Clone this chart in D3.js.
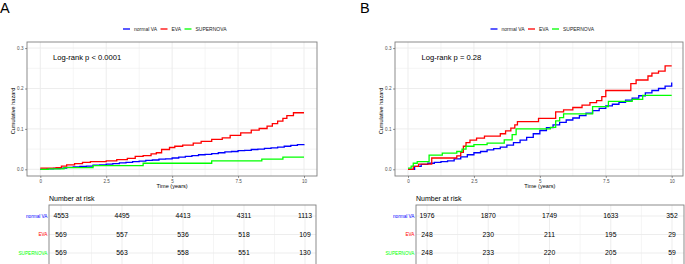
<!DOCTYPE html>
<html><head><meta charset="utf-8">
<script src="https://cdn.jsdelivr.net/npm/d3@7"></script>
<style>body{margin:0;background:#fff}svg{display:block;font-family:"Liberation Sans",Arial,sans-serif}</style>
</head><body>
<svg id="chart" width="685" height="264"></svg>
<script>
// ---------- data ----------
const seriesNames = ["normal VA", "EVA", "SUPERNOVA"];
const seriesColors = ["#0000ff", "#ff0000", "#00ff00"];
const riskTimes = [0, 2.5, 5, 7.5, 10];
const xTicks = [0, 2.5, 5, 7.5, 10];
const xTickLabels = ["0", "2.5", "5", "7.5", "10"];
const yTicks = [0, 0.1, 0.2, 0.3];
const yTickLabels = ["0.0", "0.1", "0.2", "0.3"];

// Panel A
const aNormalT = [0, 0.25, 0.5, 0.75, 1, 1.25, 1.5, 1.75, 2, 2.25, 2.5, 2.75, 3, 3.25, 3.5, 3.75, 4, 4.25, 4.5, 4.75, 5, 5.25, 5.5, 5.75, 6, 6.25, 6.5, 6.75, 7, 7.25, 7.5, 7.75, 8, 8.25, 8.5, 8.75, 9, 9.25, 9.5, 9.75, 10];
const aNormalH = [0, 0.001, 0.002, 0.003, 0.005, 0.006, 0.007, 0.008, 0.010, 0.011, 0.013, 0.014, 0.016, 0.017, 0.019, 0.020, 0.022, 0.023, 0.025, 0.026, 0.028, 0.030, 0.032, 0.034, 0.036, 0.037, 0.039, 0.041, 0.043, 0.044, 0.046, 0.047, 0.049, 0.050, 0.052, 0.053, 0.055, 0.057, 0.059, 0.061, 0.062];
const aEvaT = [0, 0.6, 0.8, 1.0, 1.3, 1.6, 1.9, 2.5, 2.9, 3.3, 3.6, 3.9, 4.2, 4.4, 4.6, 4.9, 5.1, 5.4, 5.8, 6.1, 6.5, 6.9, 7.2, 7.6, 8.0, 8.3, 8.6, 8.8, 9.0, 9.2, 9.35, 9.6, 10];
const aEvaH = [0.003, 0.004, 0.008, 0.011, 0.014, 0.017, 0.019, 0.021, 0.024, 0.027, 0.032, 0.034, 0.038, 0.041, 0.049, 0.054, 0.057, 0.060, 0.065, 0.069, 0.074, 0.078, 0.084, 0.090, 0.097, 0.101, 0.107, 0.113, 0.119, 0.126, 0.133, 0.140, 0.140];
const aSuperT = [0, 0.3, 0.9, 2.0, 3.9, 6.5, 8.4, 9.2, 10];
const aSuperH = [0, 0.001, 0.004, 0.009, 0.015, 0.021, 0.025, 0.030, 0.030];
const aRiskNormal = [4553, 4495, 4413, 4311, 1113];
const aRiskEva = [569, 557, 536, 518, 109];
const aRiskSuper = [569, 563, 558, 551, 130];

// Panel B
const bNormalT = [0, 0.25, 0.5, 0.75, 1, 1.25, 1.5, 1.75, 2, 2.25, 2.5, 2.75, 3, 3.25, 3.5, 3.75, 4, 4.25, 4.5, 4.75, 5, 5.25, 5.5, 5.75, 6, 6.25, 6.5, 6.75, 7, 7.25, 7.5, 7.75, 8, 8.25, 8.5, 8.75, 9, 9.25, 9.5, 9.75, 10];
const bNormalH = [0, 0.007, 0.012, 0.015, 0.017, 0.019, 0.021, 0.026, 0.031, 0.036, 0.041, 0.044, 0.048, 0.051, 0.055, 0.060, 0.066, 0.072, 0.079, 0.088, 0.096, 0.103, 0.110, 0.116, 0.122, 0.127, 0.133, 0.139, 0.145, 0.151, 0.157, 0.161, 0.166, 0.171, 0.176, 0.182, 0.189, 0.195, 0.200, 0.206, 0.215];
const bEvaT = [0, 0.2, 0.4, 0.9, 1.85, 2.0, 2.1, 2.2, 2.35, 2.6, 2.9, 3.5, 3.7, 3.9, 4.05, 4.15, 4.95, 5.6, 5.9, 6.25, 6.6, 6.9, 7.15, 7.35, 7.5, 8.45, 8.65, 9.1, 9.25, 9.5, 9.75, 10];
const bEvaH = [0, 0.007, 0.013, 0.028, 0.033, 0.042, 0.057, 0.066, 0.072, 0.077, 0.082, 0.088, 0.095, 0.102, 0.110, 0.118, 0.126, 0.142, 0.147, 0.153, 0.159, 0.165, 0.170, 0.180, 0.195, 0.212, 0.221, 0.231, 0.238, 0.243, 0.256, 0.256];
const bSuperT = [0, 0.12, 0.2, 0.35, 0.8, 1.3, 1.85, 2.05, 2.2, 2.5, 3.0, 3.65, 3.95, 4.1, 5.4, 5.6, 5.75, 5.9, 7.0, 7.6, 8.5, 8.9, 10];
const bSuperH = [0.003, 0.008, 0.015, 0.019, 0.035, 0.040, 0.044, 0.050, 0.057, 0.061, 0.065, 0.073, 0.086, 0.100, 0.104, 0.120, 0.128, 0.137, 0.155, 0.168, 0.173, 0.183, 0.183];
const bRiskNormal = [1976, 1870, 1749, 1633, 352];
const bRiskEva = [248, 230, 211, 195, 29];
const bRiskSuper = [248, 233, 220, 205, 59];

const panelLetters = ["A", "B"];
const pValueLabels = ["Log-rank  p < 0.0001", "Log-rank  p = 0.28"];

// ---------- drawing ----------
const svg = d3.select("#chart");

const panels = [
  {
    letter: panelLetters[0], pText: pValueLabels[0],
    series: [[aNormalT, aNormalH], [aEvaT, aEvaH], [aSuperT, aSuperH]],
    risk: [aRiskNormal, aRiskEva, aRiskSuper],
    letterX: 0,
    plot: {left: 27, right: 317, top: 42, bottom: 176, x0: 40.3, x1: 304},
    legendX: 123,
    table: {left: 49, right: 316, x0: 61, x1: 305},
    pX: 53
  },
  {
    letter: panelLetters[1], pText: pValueLabels[1],
    series: [[bNormalT, bNormalH], [bEvaT, bEvaH], [bSuperT, bSuperH]],
    risk: [bRiskNormal, bRiskEva, bRiskSuper],
    letterX: 360,
    plot: {left: 395, right: 683, top: 42, bottom: 176, x0: 408, x1: 671.7},
    legendX: 490.5,
    table: {left: 416, right: 684, x0: 427, x1: 672},
    pX: 421.5
  }
];

const gridCol = "#ebebeb";
const borderCol = "#7f7f7f";

panels.forEach(p => {
  const g = svg.append("g");
  const P = p.plot;
  const x = d3.scaleLinear().domain([0, 10]).range([P.x0, P.x1]);
  const y = d3.scaleLinear().domain([0, 0.3]).range([169.3, 48.1]);

  g.append("text").attr("x", p.letterX).attr("y", 13).attr("font-size", 14.5)
    .attr("fill", "#000").text(p.letter);

  const lg = g.append("g").attr("transform", `translate(${p.legendX},29)`);
  const legendOffsets = [0, 37.5, 61.5];
  seriesNames.forEach((n, i) => {
    const gi = lg.append("g").attr("transform", `translate(${legendOffsets[i]},0)`);
    gi.append("line").attr("x1", 0).attr("x2", 7).attr("y1", 0).attr("y2", 0)
      .attr("stroke", seriesColors[i]).attr("stroke-width", 1.3);
    gi.append("text").attr("x", 11).attr("y", 1.7).attr("font-size", 5).attr("fill", "#222").text(n);
  });

  const minorX = [1.25, 3.75, 6.25, 8.75];
  const minorY = [0.05, 0.15, 0.25];
  minorX.forEach(v => g.append("line").attr("x1", x(v)).attr("x2", x(v)).attr("y1", P.top).attr("y2", P.bottom)
    .attr("stroke", gridCol).attr("stroke-width", 0.5));
  minorY.forEach(v => g.append("line").attr("x1", P.left).attr("x2", P.right).attr("y1", y(v)).attr("y2", y(v))
    .attr("stroke", gridCol).attr("stroke-width", 0.5));
  xTicks.forEach(v => g.append("line").attr("x1", x(v)).attr("x2", x(v)).attr("y1", P.top).attr("y2", P.bottom)
    .attr("stroke", gridCol).attr("stroke-width", 0.9));
  yTicks.forEach(v => g.append("line").attr("x1", P.left).attr("x2", P.right).attr("y1", y(v)).attr("y2", y(v))
    .attr("stroke", gridCol).attr("stroke-width", 0.9));

  const line = d3.line().curve(d3.curveStepAfter).x(d => x(d[0])).y(d => y(d[1]));
  p.series.forEach((s, i) => {
    const pts = s[0].map((t, k) => [t, s[1][k]]);
    g.append("path").datum(pts).attr("d", line).attr("fill", "none")
      .attr("stroke", seriesColors[i]).attr("stroke-width", 1.3);
  });

  g.append("rect").attr("x", P.left).attr("y", P.top).attr("width", P.right - P.left).attr("height", P.bottom - P.top)
    .attr("fill", "none").attr("stroke", borderCol).attr("stroke-width", 0.9);

  const xAxis = d3.axisBottom(x).tickValues(xTicks).tickFormat((d, i) => xTickLabels[i]).tickSize(2).tickPadding(1.5);
  const xa = g.append("g").attr("transform", `translate(0,${P.bottom})`).call(xAxis);
  const yAxis = d3.axisLeft(y).tickValues(yTicks).tickFormat((d, i) => yTickLabels[i]).tickSize(2).tickPadding(1.5);
  const ya = g.append("g").attr("transform", `translate(${P.left},0)`).call(yAxis);
  [xa, ya].forEach(a => {
    a.select(".domain").remove();
    a.selectAll(".tick line").attr("stroke", "#333").attr("stroke-width", 0.5);
    a.selectAll(".tick text").attr("font-size", 4.6).attr("fill", "#4d4d4d").attr("font-family", "Liberation Sans, Arial, sans-serif");
  });

  g.append("text").attr("x", x(5)).attr("y", 188).attr("text-anchor", "middle").attr("font-size", 5.6)
    .attr("fill", "#000").text("Time (years)");
  g.append("text").attr("transform", `translate(${P.left - 12.5},${(P.top + P.bottom) / 2 + 2}) rotate(-90)`)
    .attr("text-anchor", "middle").attr("font-size", 5.6).attr("fill", "#000").text("Cumulative hazard");

  g.append("text").attr("x", p.pX).attr("y", 60).attr("font-size", 7.6).attr("fill", "#000").text(p.pText);

  const T = p.table;
  const tx = d3.scaleLinear().domain([0, 10]).range([T.x0, T.x1]);
  const rowY = [216, 234.5, 253];
  g.append("text").attr("x", T.left).attr("y", 200.5).attr("font-size", 7).attr("fill", "#000").text("Number at risk");
  const tTop = 205, tBottom = 270;
  [1.25, 3.75, 6.25, 8.75].forEach(v => g.append("line").attr("x1", tx(v)).attr("x2", tx(v)).attr("y1", tTop).attr("y2", tBottom)
    .attr("stroke", gridCol).attr("stroke-width", 0.5));
  riskTimes.forEach(v => g.append("line").attr("x1", tx(v)).attr("x2", tx(v)).attr("y1", tTop).attr("y2", tBottom)
    .attr("stroke", gridCol).attr("stroke-width", 0.9));
  rowY.forEach(v => g.append("line").attr("x1", T.left).attr("x2", T.right).attr("y1", v).attr("y2", v)
    .attr("stroke", gridCol).attr("stroke-width", 0.9));
  p.risk.forEach((row, i) => {
    row.forEach((val, k) => {
      g.append("text").attr("x", tx(riskTimes[k])).attr("y", rowY[i] + 2.4).attr("text-anchor", "middle")
        .attr("font-size", 6.8).attr("fill", "#000").text(val);
    });
    g.append("text").attr("x", T.left - 1.5).attr("y", rowY[i] + 1.6).attr("text-anchor", "end")
      .attr("font-size", 4.7).attr("fill", seriesColors[i]).text(seriesNames[i]);
  });
  g.append("rect").attr("x", T.left).attr("y", tTop).attr("width", T.right - T.left).attr("height", tBottom - tTop)
    .attr("fill", "none").attr("stroke", borderCol).attr("stroke-width", 0.9);
});
</script>
</body></html>
